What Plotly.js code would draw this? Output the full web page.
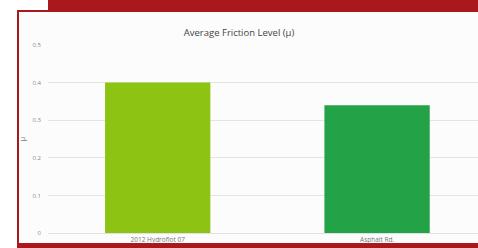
<!DOCTYPE html>
<html>
<head>
<meta charset="utf-8">
<script src="https://cdn.plot.ly/plotly-3.0.1.min.js"></script>
<style>
  html, body { margin:0; padding:0; width:478px; height:248px; overflow:hidden; background:#ffffff; }
  #topband { position:absolute; left:48px; top:0; width:430px; height:10px; background:#a8181c; }
  #frame { position:absolute; left:17px; top:10px; width:461px; height:233px; border-left:2px solid #a8181c; border-top:2px solid #a8181c; box-sizing:border-box; background:#fcfcfd; }
  #botband { position:absolute; left:17px; top:243px; width:461px; height:5px; background:#a8181c; }
  #chart { position:absolute; left:0; top:0; width:478px; height:248px; }
</style>
</head>
<body>
<div id="topband"></div>
<div id="frame"></div>
<div id="botband"></div>
<div id="chart"></div>
<script>
const categories = ["2012 Hydroflot 07", "Asphalt Rd."];
const frictionValues = [0.40, 0.34];
const barColors = ["#8dc414", "#23a247"];
const yTickVals = [0, 0.1, 0.2, 0.3, 0.4, 0.5];
const yTickText = ["0", "0.1", "0.2", "0.3", "0.4", "0.5"];

Plotly.newPlot("chart", [{
  type: "bar",
  x: categories,
  y: frictionValues,
  width: 0.48,
  marker: { color: barColors },
  hoverinfo: "none"
}], {
  width: 478, height: 248,
  margin: { l: 48, r: 0, t: 45, b: 15, pad: 0 },
  paper_bgcolor: "rgba(0,0,0,0)",
  plot_bgcolor: "rgba(0,0,0,0)",
  showlegend: false,
  title: { text: "Average Friction Level (µ)", x: 0.5, xanchor: "center", y: 0.87, yanchor: "middle",
           font: { family: "Open Sans, DejaVu Sans, sans-serif", size: 9.5, color: "#444444" } },
  xaxis: {
    type: "category",
    range: [-0.5, 1.46],
    showgrid: false, zeroline: false, showline: false,
    ticks: "", tickfont: { family: "Open Sans, sans-serif", size: 6.5, color: "#777777" },
    ticklabelstandoff: 1
  },
  yaxis: {
    range: [0, 0.5],
    tickvals: yTickVals, ticktext: yTickText,
    showgrid: true, gridcolor: "#e4e4e4", gridwidth: 1,
    zeroline: true, zerolinecolor: "#e0e0e0", zerolinewidth: 1,
    showline: false, ticks: "",
    tickfont: { family: "Open Sans, sans-serif", size: 6, color: "#888888" },
    ticklabelstandoff: 6,
    title: { text: "µ", standoff: 6, font: { family: "Open Sans, sans-serif", size: 7, color: "#777777" } }
  }
}, { displayModeBar: false, staticPlot: true });
</script>
</body>
</html>
